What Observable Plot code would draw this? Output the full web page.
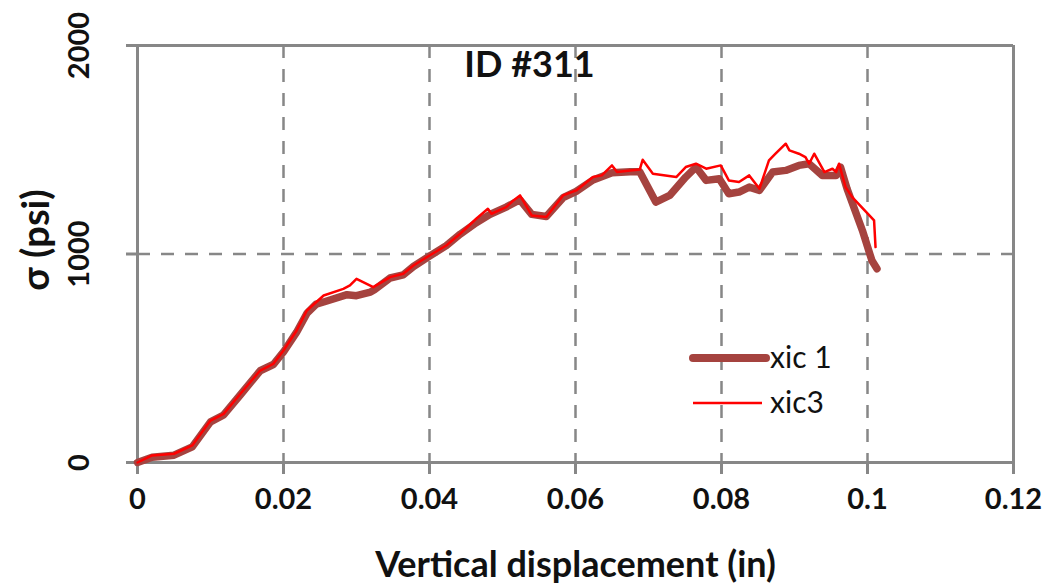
<!DOCTYPE html>
<html>
<head>
<meta charset="utf-8">
<script src="https://cdn.jsdelivr.net/npm/d3@7"></script>
<script src="https://cdn.jsdelivr.net/npm/@observablehq/plot@0.6"></script>
<style>
  html, body { margin: 0; padding: 0; background: #fff; }
  #wrap { position: relative; width: 1050px; height: 584px; overflow: hidden; }
  #legend { position: absolute; left: 686px; top: 336px; font-family: Lato, "Open Sans", sans-serif; }
</style>
</head>
<body>
<div id="wrap">
  <div id="chart"></div>
  <svg id="legend" width="200" height="90">
    <line x1="7" y1="22" x2="80" y2="22" stroke="#A5433F" stroke-width="8" stroke-linecap="round"></line>
    <text x="84" y="32" font-size="30" fill="#111">xic 1</text>
    <line x1="7" y1="67" x2="76" y2="67" stroke="#FF0000" stroke-width="2.5"></line>
    <text x="84" y="77" font-size="30" fill="#111">xic3</text>
  </svg>
</div>
<script>
// ---- data ----
const xic1X = [0, 0.002, 0.005, 0.0075, 0.010, 0.0118, 0.0141, 0.0168, 0.0186, 0.020, 0.0218, 0.0232, 0.0245, 0.0255, 0.0287, 0.030, 0.0319, 0.0325, 0.0346, 0.0364, 0.0378, 0.040, 0.0423, 0.0442, 0.0464, 0.0483, 0.0505, 0.0524, 0.054, 0.056, 0.0583, 0.0601, 0.0624, 0.065, 0.0675, 0.0688, 0.071, 0.0729, 0.0751, 0.0765, 0.0779, 0.0797, 0.081, 0.0824, 0.0838, 0.0852, 0.087, 0.0888, 0.0906, 0.092, 0.0938, 0.0957, 0.0963, 0.0972, 0.0993, 0.1006, 0.1013];
const xic1Y = [0, 25, 35, 75, 195, 228, 325, 440, 470, 530, 625, 715, 760, 770, 805, 800, 817, 830, 885, 900, 940, 990, 1040, 1095, 1150, 1190, 1225, 1260, 1190, 1180, 1270, 1300, 1355, 1390, 1395, 1395, 1249, 1281, 1369, 1417, 1353, 1361, 1289, 1297, 1321, 1305, 1393, 1401, 1425, 1433, 1377, 1377, 1417, 1313, 1113, 969, 929];

const xic3X = [0, 0.002, 0.005, 0.0075, 0.010, 0.0118, 0.0141, 0.0168, 0.0186, 0.020, 0.0218, 0.0232, 0.0255, 0.0282, 0.0291, 0.030, 0.0323, 0.0346, 0.0364, 0.0378, 0.040, 0.0423, 0.0442, 0.0464, 0.048, 0.0485, 0.0505, 0.0515, 0.0524, 0.054, 0.056, 0.0583, 0.0601, 0.0624, 0.0636, 0.065, 0.0657, 0.0675, 0.0688, 0.0692, 0.0706, 0.0738, 0.0751, 0.0765, 0.0779, 0.0799, 0.081, 0.0824, 0.0838, 0.0852, 0.0865, 0.0874, 0.0888, 0.0893, 0.0906, 0.0915, 0.092, 0.0927, 0.0941, 0.0952, 0.0957, 0.0961, 0.097, 0.0979, 0.1009, 0.1011];
const xic3Y = [0, 34, 42, 82, 201, 233, 330, 441, 473, 537, 633, 729, 801, 833, 849, 881, 841, 889, 905, 945, 993, 1041, 1097, 1169, 1217, 1193, 1225, 1257, 1281, 1185, 1177, 1281, 1305, 1369, 1377, 1425, 1393, 1401, 1405, 1452, 1385, 1369, 1417, 1433, 1409, 1425, 1353, 1345, 1377, 1313, 1449, 1481, 1529, 1497, 1481, 1465, 1433, 1481, 1393, 1409, 1393, 1433, 1321, 1273, 1161, 1033];

const xTicks = [0, 0.02, 0.04, 0.06, 0.08, 0.1, 0.12];
const xTickLabels = ["0", "0.02", "0.04", "0.06", "0.08", "0.1", "0.12"];
const yTicks = [0, 1000, 2000];
const yTickLabels = ["0", "1000", "2000"];
const xGrid = [0.02, 0.04, 0.06, 0.08, 0.1];
const yGrid = [1000];
const titleText = "ID #311";
const xLabel = "Vertical displacement (in)";
const yLabel = "σ (psi)";

const xic1 = xic1X.map((x, i) => ({x, y: xic1Y[i]}));
const xic3 = xic3X.map((x, i) => ({x, y: xic3Y[i]}));

const gray = "#878787";
const font = "Lato, 'Open Sans', sans-serif";

const chart = Plot.plot({
  width: 1050,
  height: 584,
  marginLeft: 137,
  marginRight: 37,
  marginTop: 45,
  marginBottom: 122,
  style: {fontFamily: font, background: "white", overflow: "visible"},
  x: {domain: [0, 0.12]},
  y: {domain: [0, 2000]},
  marks: [
    Plot.ruleX(xGrid, {stroke: gray, strokeWidth: 2.5, strokeDasharray: "13,11"}),
    Plot.ruleY(yGrid, {stroke: gray, strokeWidth: 2.5, strokeDasharray: "13,11"}),
    Plot.ruleX([0.12], {stroke: gray, strokeWidth: 3}),
    Plot.ruleY([2000], {stroke: gray, strokeWidth: 3}),
    Plot.ruleX([0], {stroke: gray, strokeWidth: 3}),
    Plot.ruleY([0], {stroke: gray, strokeWidth: 3}),
    Plot.axisX(xTicks, {
      tickSize: 12, tickPadding: 14, stroke: gray, strokeWidth: 3,
      tickFormat: d => xTickLabels[xTicks.indexOf(d)],
      fontSize: 29, fontWeight: "bold", fill: "#111", label: null
    }),
    Plot.axisY(yTicks, {
      tickSize: 11, tickFormat: () => "", stroke: gray, strokeWidth: 3, label: null
    }),
    Plot.text(yTicks, {
      y: d => d, text: d => yTickLabels[yTicks.indexOf(d)],
      frameAnchor: "left", dx: -58, rotate: -90,
      textAnchor: "middle", lineAnchor: "middle",
      fontSize: 29, fontWeight: "bold", fill: "#111"
    }),
    Plot.line(xic1, {x: "x", y: "y", stroke: "#A5433F", strokeWidth: 7.5, strokeLinejoin: "round", strokeLinecap: "round"}),
    Plot.line(xic3, {x: "x", y: "y", stroke: "#FF0000", strokeWidth: 2.5, strokeLinejoin: "round"}),
    Plot.text([titleText], {
      frameAnchor: "top", dx: -46, dy: 31, lineAnchor: "bottom",
      fontSize: 36, fontWeight: "bold", fill: "#111"
    }),
    Plot.text([xLabel], {
      frameAnchor: "bottom", dy: 114, lineAnchor: "bottom",
      fontSize: 36, fontWeight: "bold", fill: "#111"
    }),
    Plot.text([yLabel], {
      frameAnchor: "left", dx: -101, dy: -14, rotate: -90,
      textAnchor: "middle", lineAnchor: "middle",
      fontSize: 38, fontWeight: "bold", fill: "#111"
    })
  ]
});
document.getElementById("chart").appendChild(chart);
</script>
</body>
</html>
